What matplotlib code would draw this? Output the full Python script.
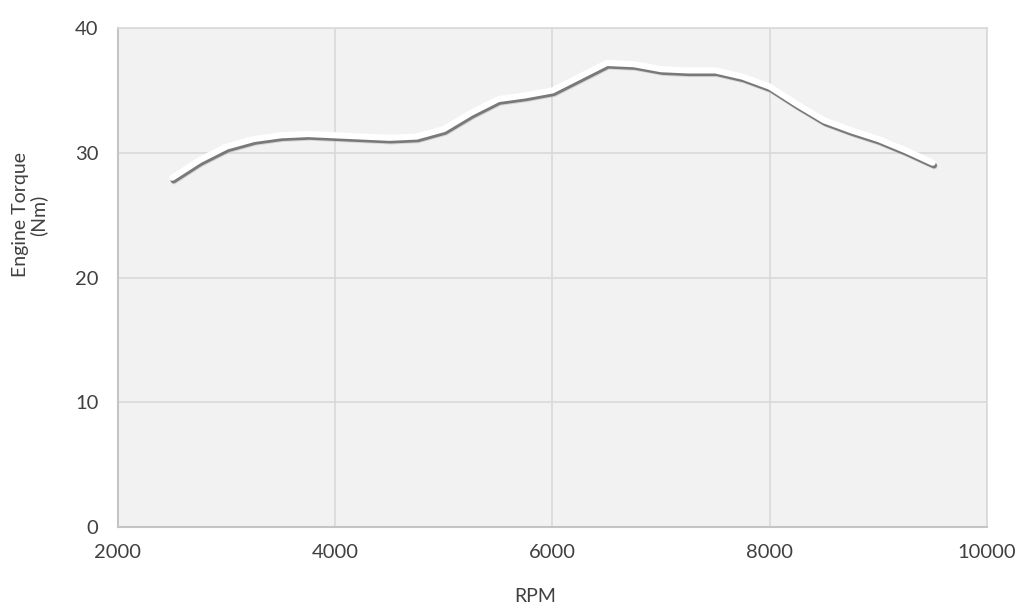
import matplotlib
matplotlib.use("Agg")
import matplotlib.pyplot as plt
import matplotlib.patheffects as pe

# torque curve
rpm = [2500, 2750, 3000, 3250, 3500, 3750, 4000, 4250, 4500, 4750,
       5000, 5250, 5500, 5750, 6000, 6250, 6500, 6750, 7000, 7250,
       7500, 7750, 8000, 8250, 8500, 8750, 9000, 9250, 9500]
torque = [28.0, 29.4, 30.5, 31.1, 31.4, 31.5, 31.4, 31.3, 31.2, 31.3,
          31.9, 33.2, 34.3, 34.6, 35.0, 36.1, 37.2, 37.1, 36.7, 36.6,
          36.6, 36.1, 35.3, 33.9, 32.6, 31.8, 31.1, 30.2, 29.2]

x_ticks = [2000, 4000, 6000, 8000, 10000]
y_ticks = [0, 10, 20, 30, 40]

plt.rcParams['font.family'] = ['Lato', 'DejaVu Sans']

fig = plt.figure(figsize=(10.24, 6.09), dpi=100)
ax = fig.add_axes([0.1152, 0.1346, 0.8487, 0.8194])
ax.set_facecolor('#f2f2f2')

# white line with a soft grey shadow under it
shadow = [pe.SimpleLineShadow(offset=(1.3, -2.6), shadow_color='#a0a0a0', alpha=0.35),
          pe.SimpleLineShadow(offset=(0.9, -1.9), shadow_color='#5a5a5a', alpha=0.75),
          pe.Normal()]
ax.plot(rpm, torque, color='white', lw=4.4, solid_capstyle='round',
        solid_joinstyle='round', zorder=3, path_effects=shadow)

ax.set_xlim(2000, 10000)
ax.set_ylim(0, 40)
ax.set_xticks(x_ticks)
ax.set_yticks(y_ticks)
ax.grid(True, color='#d9d9d9', lw=1.2)
ax.set_axisbelow(True)
ax.tick_params(length=0, labelsize=14.5, labelcolor='#404040')
ax.tick_params(axis='y', pad=14)
ax.tick_params(axis='x', pad=12)

for s in ['top', 'right']:
    ax.spines[s].set_color('#d9d9d9')
    ax.spines[s].set_linewidth(1.2)
for s in ['left', 'bottom']:
    ax.spines[s].set_color('#c4c4c4')
    ax.spines[s].set_linewidth(1.5)

fig.text(0.029, 0.647, 'Engine Torque\n(Nm)', rotation=90, ha='center', va='center',
         fontsize=14, color='#404040', linespacing=1.0)
fig.text(0.523, 0.020, 'RPM', ha='center', va='center', fontsize=14, color='#404040')

fig.savefig('out.png', dpi=100)
